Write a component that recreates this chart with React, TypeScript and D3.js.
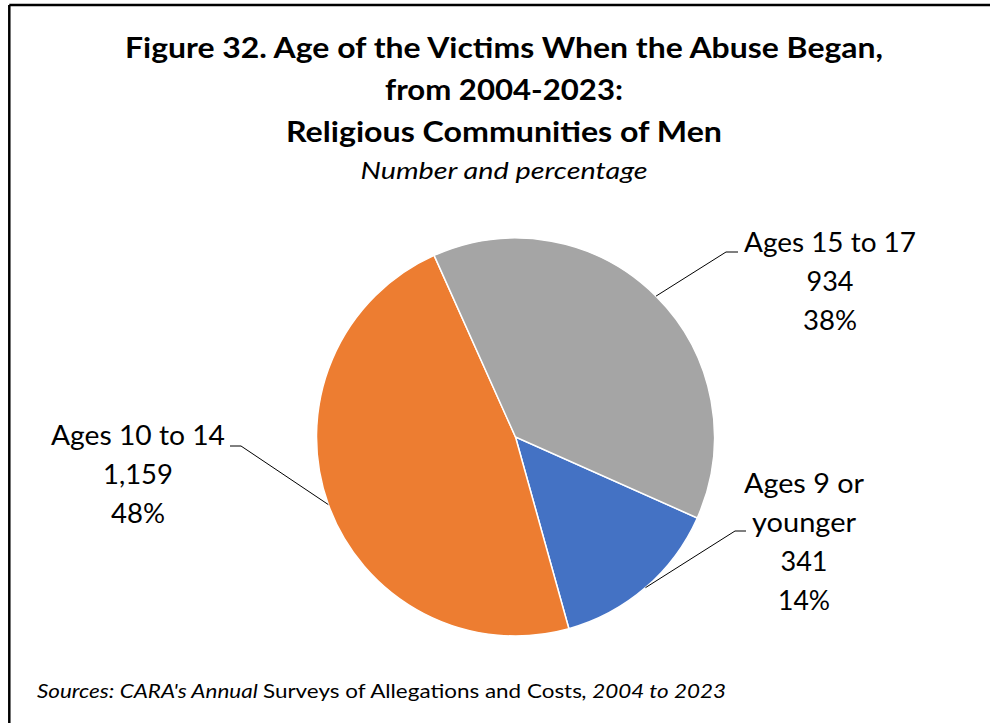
import React from "react";
import * as d3 from "d3";

const categories = ["Ages 9 or younger", "Ages 10 to 14", "Ages 15 to 17"];
const counts = [341, 1159, 934];
const colors = ["#4472C4", "#ED7D31", "#A5A5A5"];
const titleLines = [
  "Figure 32. Age of the Victims When the Abuse Began,",
  "from 2004-2023:",
  "Religious Communities of Men",
];
const subtitle = "Number and percentage";
const sourceParts = [
  { text: "Sources: CARA's Annual ", italic: true },
  { text: "Surveys of Allegations and Costs", italic: false },
  { text: ", 2004 to 2023", italic: true },
];

const W = 990;
const H = 723;
const FONT = "Lato, 'Open Sans', 'Liberation Sans', sans-serif";

// layout (positions only)
const cx = 515.5;
const cy = 437;
const R = 199;
const startDeg = 114;
const titleX = 504;
const titleBaselines = [58.3, 100, 141.7];
const titleWidths = [758, 238, 436];
const subtitleBaseline = 179;
const subtitleWidth = 287;

const labelLayout = [
  {
    // Ages 9 or younger
    wrap: ["Ages 9 or", "younger"],
    x: 804,
    y0: 492.7,
    elbow: [735, 531],
    end: [746, 531],
    widths: [120, 104, 47, 52],
  },
  {
    wrap: null,
    x: 138,
    y0: 445,
    elbow: [241, 446],
    end: [230, 446],
    widths: [174, 70, 54],
  },
  {
    wrap: null,
    x: 830,
    y0: 252,
    elbow: [726, 252],
    end: [738, 252],
    widths: [172, 47, 54],
  },
];
const lineH = 39;

export default function App() {
  const total = d3.sum(counts);
  const start = (startDeg * Math.PI) / 180;
  const pie = d3
    .pie<number>()
    .sort(null)
    .startAngle(start)
    .endAngle(start + 2 * Math.PI);
  const arcs = pie(counts);
  const arc = d3.arc<d3.PieArcDatum<number>>().innerRadius(0).outerRadius(R);
  const fmtN = d3.format(",");
  const fmtP = d3.format(".0%");

  return (
    <svg
      width={W}
      height={H}
      style={{ position: "absolute", left: 0, top: 0, background: "#fff" }}
      fontFamily={FONT}
    >
      <rect x={0} y={0} width={W} height={H} fill="#fff" />
      {/* frame */}
      <line x1={9.3} y1={5} x2={W} y2={5} stroke="#000" strokeWidth={2.5} />
      <line x1={9.3} y1={5} x2={9.3} y2={H} stroke="#000" strokeWidth={2.5} />

      {/* titles */}
      {titleLines.map((t, i) => (
        <text
          key={i}
          x={titleX}
          y={titleBaselines[i]}
          textAnchor="middle"
          fontWeight="bold"
          fontSize={29}
          textLength={titleWidths[i]}
          lengthAdjust="spacingAndGlyphs"
          fill="#000"
        >
          {t}
        </text>
      ))}
      <text
        x={titleX}
        y={subtitleBaseline}
        textAnchor="middle"
        fontStyle="italic"
        fontSize={24}
        textLength={subtitleWidth}
        lengthAdjust="spacingAndGlyphs"
        fill="#000"
      >
        {subtitle}
      </text>

      {/* pie */}
      <g transform={`translate(${cx},${cy})`}>
        {arcs.map((a, i) => (
          <path
            key={i}
            d={arc(a) || ""}
            fill={colors[i]}
            stroke="#fff"
            strokeWidth={1.5}
          />
        ))}
      </g>

      {/* leader lines and labels */}
      {arcs.map((a, i) => {
        const L = labelLayout[i];
        const mid = (a.startAngle + a.endAngle) / 2;
        const px = cx + Math.sin(mid) * R;
        const py = cy - Math.cos(mid) * R;
        const nameLines = L.wrap ? L.wrap : [categories[i]];
        const lines = [...nameLines, fmtN(counts[i]), fmtP(counts[i] / total)];
        return (
          <g key={i}>
            <polyline
              points={`${px},${py} ${L.elbow[0]},${L.elbow[1]} ${L.end[0]},${L.end[1]}`}
              fill="none"
              stroke="#000"
              strokeWidth={1}
            />
            {lines.map((ln, j) => (
              <text
                key={j}
                x={L.x}
                y={L.y0 + j * lineH}
                textAnchor="middle"
                fontSize={26}
                textLength={L.widths[j]}
                lengthAdjust="spacingAndGlyphs"
                fill="#000"
              >
                {ln}
              </text>
            ))}
          </g>
        );
      })}

      {/* source */}
      <text
        x={37}
        y={698}
        fontSize={19}
        textLength={689}
        lengthAdjust="spacingAndGlyphs"
        fill="#000"
      >
        {sourceParts.map((p, i) => (
          <tspan key={i} fontStyle={p.italic ? "italic" : "normal"}>
            {p.text}
          </tspan>
        ))}
      </text>
    </svg>
  );
}
